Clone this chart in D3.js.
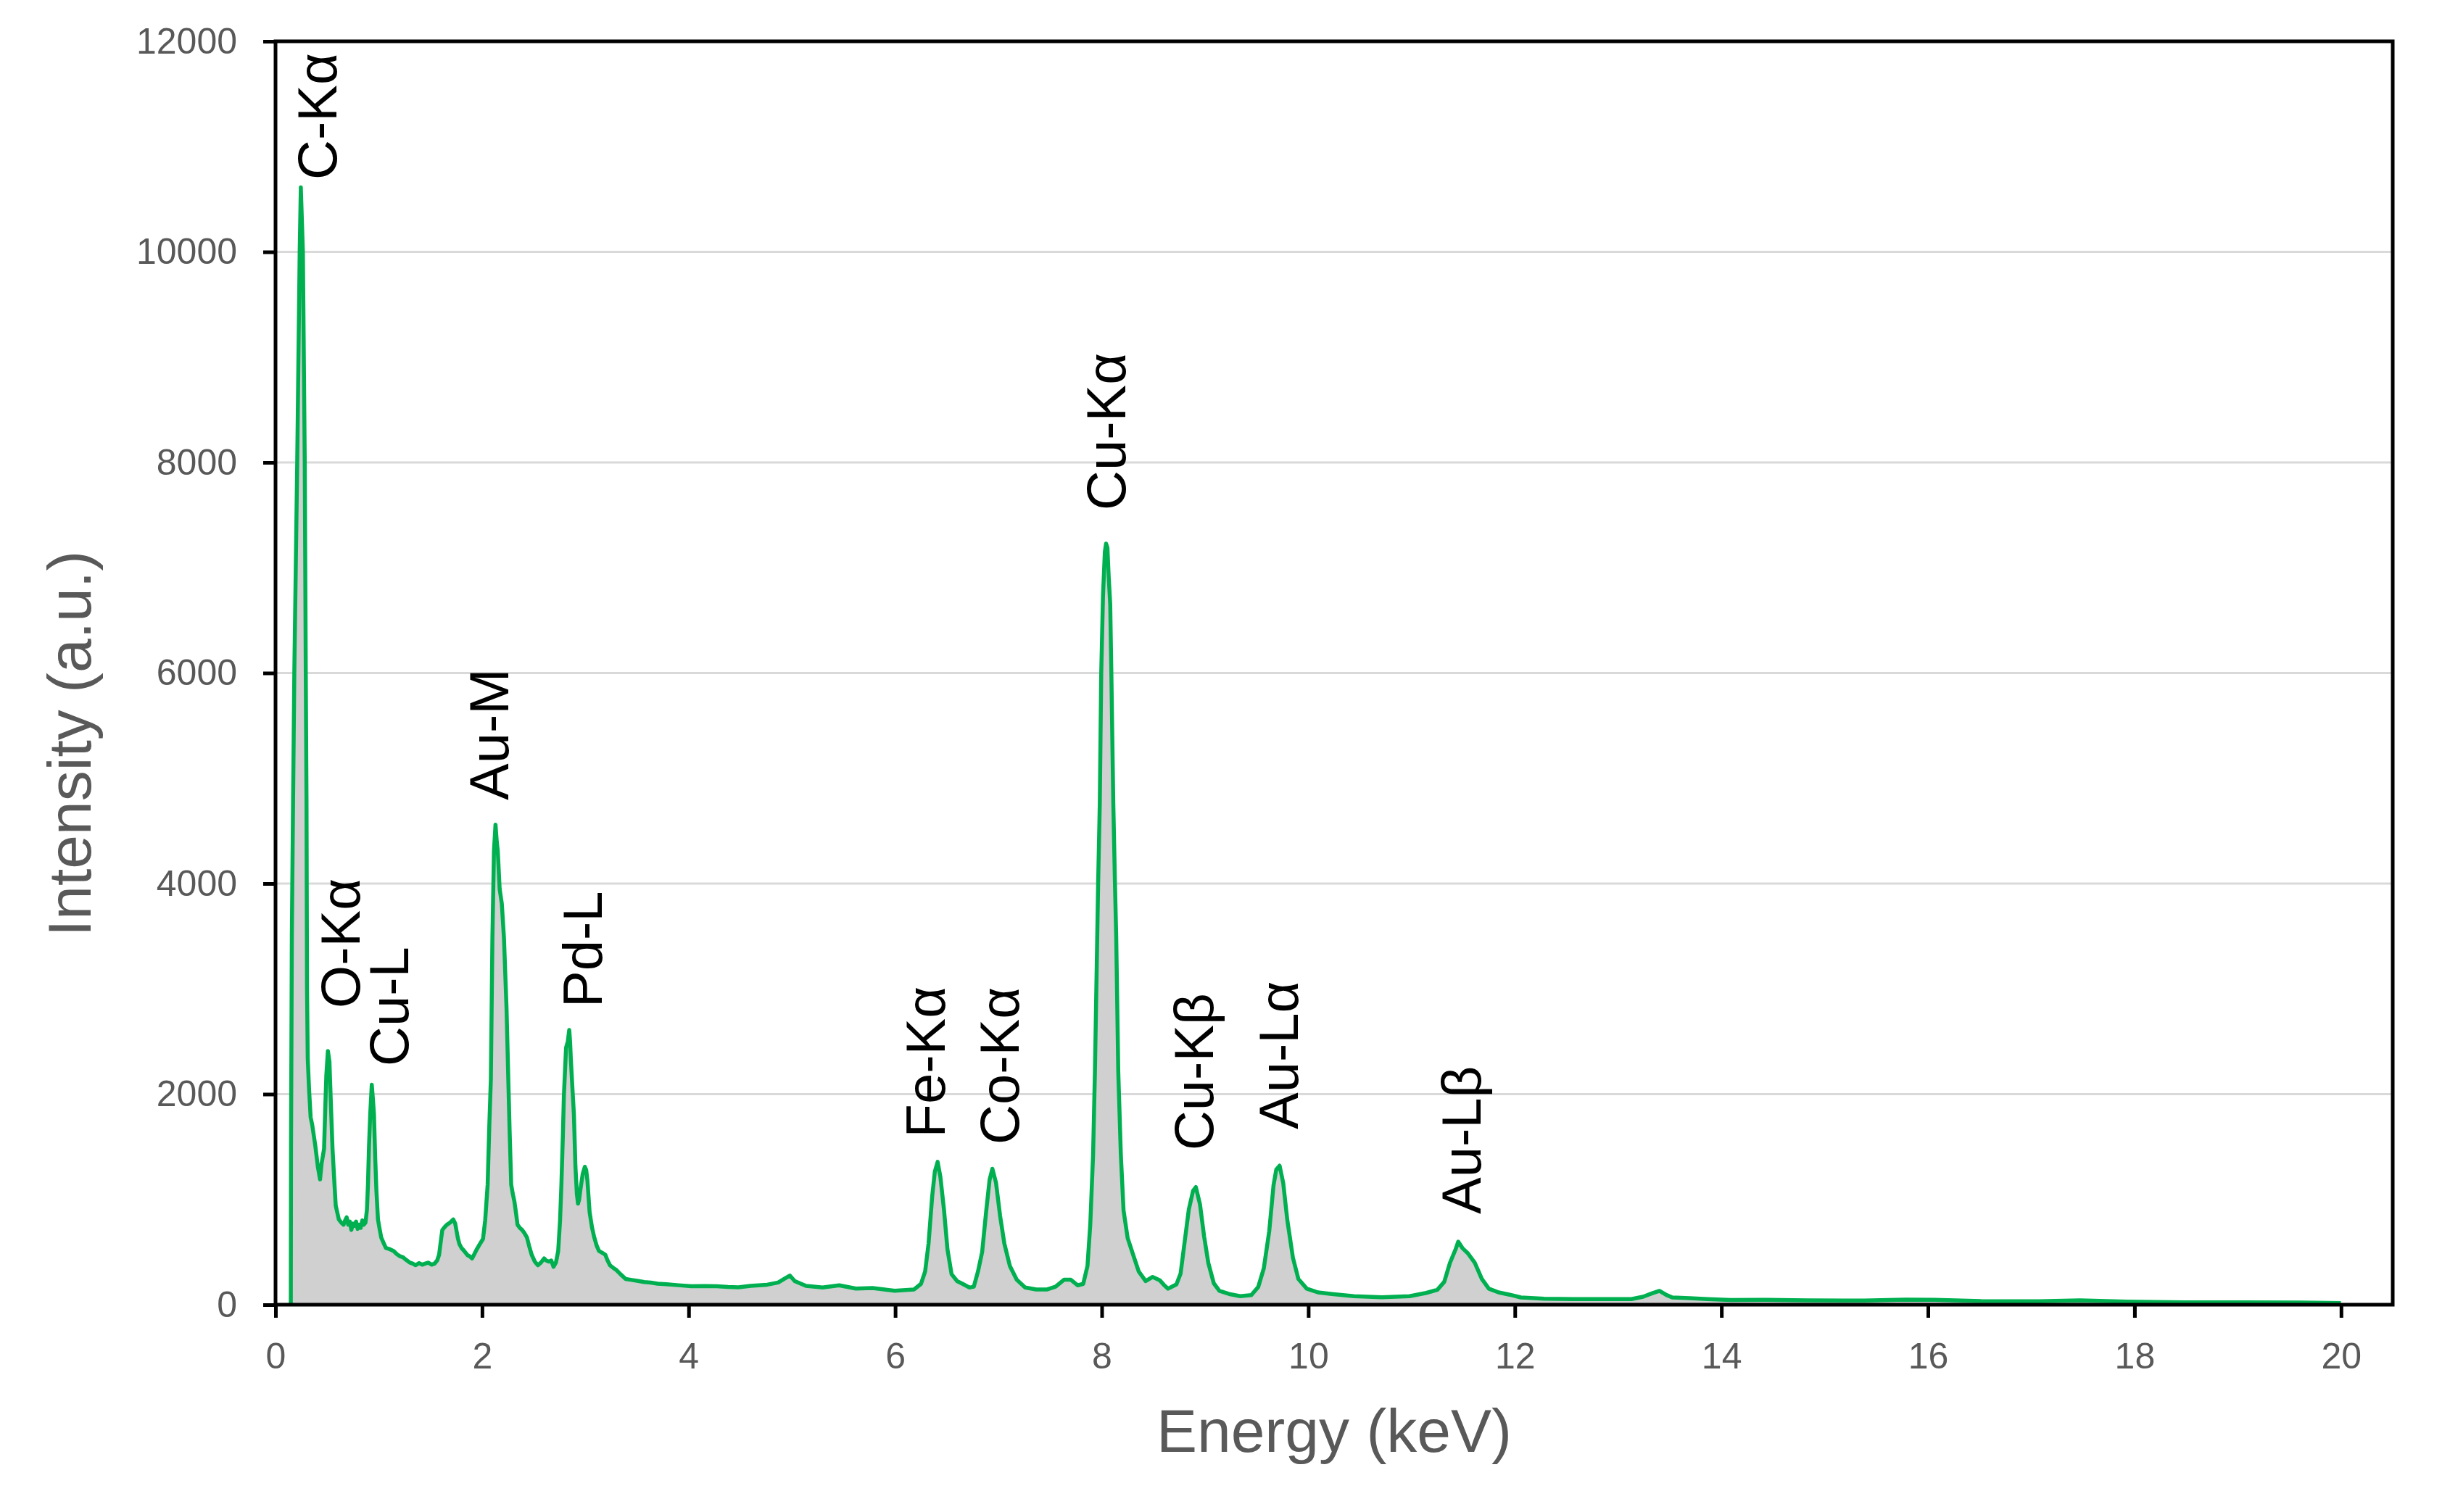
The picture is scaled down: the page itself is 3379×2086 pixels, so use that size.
<!DOCTYPE html>
<html>
<head>
<meta charset="utf-8">
<script src="https://cdn.jsdelivr.net/npm/d3@7"></script>
<style>
  html, body { margin: 0; padding: 0; background: #fff; }
  svg text { font-family: "Liberation Sans", Arial, sans-serif; }
</style>
</head>
<body>
<div id="chart"></div>
<script>
/* Spektrum: Energie (keV) und Intensitaet (a.u.) */
const energy = [
  0.148, 0.150, 0.158, 0.170, 0.182, 0.210, 0.234, 0.245, 0.265, 0.283,
  0.293, 0.300, 0.305, 0.312, 0.325, 0.340, 0.355, 0.385, 0.410, 0.431,
  0.446, 0.470, 0.483, 0.492, 0.507, 0.522, 0.537, 0.552, 0.567, 0.583,
  0.613, 0.636, 0.659, 0.674, 0.689, 0.704, 0.719, 0.734, 0.750, 0.765,
  0.780, 0.795, 0.810, 0.825, 0.840, 0.855, 0.871, 0.885, 0.895, 0.905,
  0.917, 0.932, 0.943, 0.953, 0.965, 0.977, 0.992, 1.008, 1.023, 1.045,
  1.068, 1.100, 1.144, 1.175, 1.205, 1.235, 1.266, 1.300, 1.330, 1.357,
  1.390, 1.420, 1.448, 1.480, 1.510, 1.539, 1.565, 1.584, 1.600, 1.615,
  1.640, 1.660, 1.690, 1.721, 1.740, 1.751, 1.766, 1.781, 1.800, 1.827,
  1.860, 1.880, 1.903, 1.925, 1.948, 1.975, 2.009, 2.030, 2.054, 2.070,
  2.085, 2.100, 2.115, 2.130, 2.142, 2.152, 2.170, 2.191, 2.212, 2.237,
  2.255, 2.267, 2.282, 2.298, 2.313, 2.330, 2.343, 2.365, 2.388, 2.410,
  2.434, 2.455, 2.480, 2.510, 2.540, 2.570, 2.601, 2.620, 2.646, 2.670,
  2.692, 2.715, 2.737, 2.755, 2.768, 2.782, 2.792, 2.813, 2.830, 2.844,
  2.852, 2.859, 2.875, 2.889, 2.904, 2.918, 2.929, 2.940, 2.950, 2.974,
  2.995, 3.008, 3.020, 3.041, 3.065, 3.086, 3.110, 3.132, 3.160, 3.193,
  3.215, 3.238, 3.270, 3.299, 3.340, 3.390, 3.450, 3.511, 3.570, 3.633,
  3.700, 3.784, 3.900, 4.027, 4.150, 4.270, 4.380, 4.483, 4.600, 4.760,
  4.867, 4.934, 4.980, 5.028, 5.136, 5.297, 5.458, 5.619, 5.780, 5.995,
  6.183, 6.250, 6.290, 6.323, 6.358, 6.384, 6.411, 6.438, 6.473, 6.506,
  6.546, 6.600, 6.653, 6.720, 6.761, 6.802, 6.842, 6.882, 6.914, 6.941,
  6.976, 7.016, 7.057, 7.110, 7.177, 7.258, 7.365, 7.472, 7.553, 7.634,
  7.701, 7.768, 7.821, 7.862, 7.889, 7.916, 7.934, 7.953, 7.965, 7.981,
  7.995, 8.012, 8.030, 8.042, 8.055, 8.068, 8.082, 8.093, 8.112, 8.128,
  8.140, 8.160, 8.185, 8.211, 8.251, 8.304, 8.358, 8.425, 8.493, 8.561,
  8.600, 8.642, 8.723, 8.763, 8.803, 8.843, 8.884, 8.911, 8.951, 8.991,
  9.032, 9.085, 9.139, 9.233, 9.341, 9.448, 9.515, 9.569, 9.622, 9.663,
  9.690, 9.722, 9.757, 9.797, 9.851, 9.904, 9.985, 10.093, 10.227, 10.442,
  10.711, 10.981, 11.142, 11.250, 11.317, 11.371, 11.425, 11.452, 11.492, 11.546,
  11.613, 11.681, 11.748, 11.842, 11.950, 12.058, 12.283, 12.565, 12.847, 13.129,
  13.242, 13.327, 13.400, 13.468, 13.524, 13.693, 13.863, 14.088, 14.427, 14.822,
  15.386, 15.780, 16.062, 16.513, 17.077, 17.472, 17.923, 18.487, 19.051, 19.615,
  19.998
];
const intensity = [
  0, 1500, 3500, 4800, 6000, 8000, 10000, 10612, 10000, 8000,
  6000, 4800, 3000, 2340, 2040, 1780, 1710, 1510, 1310, 1190,
  1340, 1480, 1910, 2180, 2410, 2310, 1880, 1480, 1210, 940,
  810, 780, 760, 800, 830, 760, 790, 710, 770, 750,
  790, 720, 760, 730, 800, 760, 780, 900, 1140, 1500,
  1810, 2090, 1950, 1810, 1400, 1080, 810, 720, 640, 590,
  540, 530, 510, 480, 460, 450, 425, 400, 390, 375,
  395, 380, 390, 400, 380, 390, 420, 475, 600, 710,
  740, 760, 780, 810, 770, 710, 630, 575, 540, 510,
  470, 460, 440, 480, 525, 570, 625, 800, 1140, 1700,
  2140, 3480, 4310, 4560, 4400, 4310, 3950, 3810, 3480, 2810,
  2100, 1640, 1140, 1050, 980, 860, 760, 730, 710, 680,
  640, 560, 475, 410, 375, 400, 440, 420, 410, 420,
  360, 400, 510, 800, 1140, 1600, 1980, 2440, 2500, 2610,
  2500, 2340, 2050, 1810, 1310, 1050, 960, 1000, 1080, 1240,
  1310, 1280, 1180, 880, 730, 640, 560, 510, 495, 475,
  420, 375, 350, 330, 290, 245, 235, 225, 215, 210,
  200, 195, 185, 175, 178, 175, 168, 165, 179, 190,
  211, 250, 277, 224, 179, 163, 184, 153, 158, 132,
  145, 198, 316, 580, 1028, 1265, 1357, 1212, 896, 527,
  290, 224, 198, 163, 171, 316, 501, 896, 1186, 1291,
  1159, 843, 580, 369, 237, 163, 145, 145, 171, 237,
  237, 184, 198, 369, 764, 1423, 2213, 3305, 4000, 4757,
  6000, 6733, 7150, 7229, 7190, 6900, 6657, 6000, 4757, 4000,
  3500, 2213, 1423, 896, 632, 474, 316, 224, 264, 233,
  190, 152, 193, 294, 599, 904, 1081, 1117, 954, 650,
  396, 203, 132, 102, 81, 91, 168, 345, 700, 1132,
  1284, 1320, 1157, 802, 447, 244, 152, 117, 102, 81,
  71, 81, 112, 142, 218, 396, 523, 599, 538, 487,
  396, 244, 152, 117, 95, 69, 57, 53, 53, 53,
  76, 108, 131, 92, 69, 62, 53, 44, 46, 41,
  39, 48, 46, 34, 32, 41, 30, 23, 23, 21,
  16
];

/* Beschriftungen der Linien: Text, Energie (Mitte), Intensitaet (Textanfang) */
const peakNames = ["C-Kα", "O-Kα", "Cu-L", "Au-M", "Pd-L", "Fe-Kα", "Co-Kα", "Cu-Kα", "Cu-Kβ", "Au-Lα", "Au-Lβ"];
const peakEnergy = [0.40, 0.63, 1.10, 2.07, 2.975, 6.29, 7.01, 8.04, 8.89, 9.71, 11.48];
const peakLabelAt = [10685, 2816, 2265, 4792, 2823, 1587, 1522, 7546, 1466, 1666, 861];

/* Achsenticks */
const xTicks = [0, 2, 4, 6, 8, 10, 12, 14, 16, 18, 20];
const yTicks = [0, 2000, 4000, 6000, 8000, 10000, 12000];

const width = 3379, height = 2086;
const margin = { top: 57, right: 79, bottom: 286, left: 380 };
const plotW = width - margin.left - margin.right;
const plotH = height - margin.top - margin.bottom;

const svg = d3.select("#chart").append("svg")
  .attr("width", width)
  .attr("height", height)
  .style("display", "block");

svg.append("rect").attr("width", width).attr("height", height).attr("fill", "#fff");

const g = svg.append("g")
  .attr("transform", `translate(${margin.left},${margin.top})`);

const x = d3.scaleLinear().domain([0, 20.5]).range([0, plotW]);
const y = d3.scaleLinear().domain([0, 12000]).range([plotH, 0]);

// Gitterlinien
g.append("g")
  .selectAll("line")
  .data(yTicks.filter(d => d > 0 && d < 12000))
  .enter().append("line")
  .attr("x1", 0).attr("x2", plotW)
  .attr("y1", d => y(d)).attr("y2", d => y(d))
  .attr("stroke", "#d9d9d9")
  .attr("stroke-width", 3);

const points = energy.map((e, i) => ({ e: e, v: intensity[i] }));

// Flaeche unter dem Spektrum
g.append("path")
  .datum(points)
  .attr("fill", "#d0d0d0")
  .attr("d", d3.area().x(d => x(d.e)).y0(y(0)).y1(d => y(d.v)));

// Spektrumslinie
g.append("path")
  .datum(points)
  .attr("fill", "none")
  .attr("stroke", "#00b050")
  .attr("stroke-width", 5.5)
  .attr("stroke-linejoin", "round")
  .attr("d", d3.line().x(d => x(d.e)).y(d => y(d.v)));

// Achsen (nur Ticks und Beschriftung, Rahmen separat)
const xAxis = g.append("g")
  .attr("transform", `translate(0,${plotH})`)
  .call(d3.axisBottom(x).tickValues(xTicks).tickSize(18).tickPadding(34).tickFormat(d3.format("d")));
const yAxis = g.append("g")
  .call(d3.axisLeft(y).tickValues(yTicks).tickSize(17).tickPadding(36).tickFormat(d3.format("d")));

[xAxis, yAxis].forEach(ax => {
  ax.select(".domain").remove();
  ax.selectAll(".tick line").attr("stroke", "#000").attr("stroke-width", 5);
  ax.selectAll(".tick text")
    .attr("fill", "#595959")
    .style("font-size", "50px");
});

// Rahmen
g.append("rect")
  .attr("x", 0).attr("y", 0)
  .attr("width", plotW).attr("height", plotH)
  .attr("fill", "none")
  .attr("stroke", "#000")
  .attr("stroke-width", 5);

// Peak-Beschriftungen (senkrecht)
g.append("g")
  .selectAll("text")
  .data(peakNames)
  .enter().append("text")
  .attr("transform", (d, i) => `translate(${x(peakEnergy[i])},${y(peakLabelAt[i])}) rotate(-90)`)
  .attr("dy", "0.35em")
  .attr("text-anchor", "start")
  .attr("fill", "#000")
  .style("font-size", "76px")
  .text(d => d);

// Achsentitel
svg.append("text")
  .attr("x", margin.left + plotW / 2)
  .attr("y", 2003)
  .attr("text-anchor", "middle")
  .attr("fill", "#595959")
  .style("font-size", "84px")
  .text("Energy (keV)");

svg.append("text")
  .attr("transform", "translate(125,1026) rotate(-90)")
  .attr("text-anchor", "middle")
  .attr("fill", "#595959")
  .style("font-size", "84px")
  .text("Intensity (a.u.)");
</script>
</body>
</html>
